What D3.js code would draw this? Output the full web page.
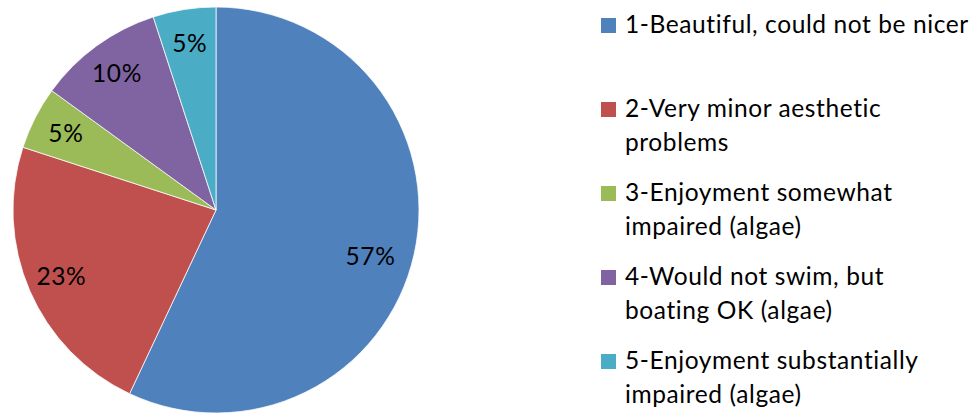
<!DOCTYPE html>
<html lang="en">
<head>
    <meta charset="UTF-8">
    <title>Pie chart</title>
    <script src="https://d3js.org/d3.v7.min.js"></script>
    <style>
        body {
            margin: 0;
            background: #fff;
            font-family: Lato, "Open Sans", sans-serif;
        }
        svg {
            display: block;
        }
        text {
            letter-spacing: 0.6px;
        }
    </style>
</head>
<body>
    <div id="container"></div>

    <script>
        // chart data
        const categories = [
            '1-Beautiful, could not be nicer',
            '2-Very minor aesthetic problems',
            '3-Enjoyment somewhat impaired (algae)',
            '4-Would not swim, but boating OK (algae)',
            '5-Enjoyment substantially impaired (algae)'
        ];
        // how each legend entry wraps
        const legendLines = [
            ['1-Beautiful, could not be nicer'],
            ['2-Very minor aesthetic', 'problems'],
            ['3-Enjoyment somewhat', 'impaired (algae)'],
            ['4-Would not swim, but', 'boating OK (algae)'],
            ['5-Enjoyment substantially', 'impaired (algae)']
        ];
        const percents = [57, 23, 5, 10, 5];
        const colors = ['#4F81BD', '#C0504D', '#9BBB59', '#8064A2', '#4BACC6'];

        const width = 975;
        const height = 416;
        const cx = 216;
        const cy = 210;
        const radius = 203;
        const fontSize = 24.5;

        const svg = d3.select('#container')
            .append('svg')
            .attr('width', width)
            .attr('height', height);

        const pie = d3.pie()
            .sort(null)
            .value(d => d);

        const arc = d3.arc()
            .innerRadius(0)
            .outerRadius(radius);

        // labels sit around 83% of the radius
        const labelArc = d3.arc()
            .innerRadius(radius * 0.83)
            .outerRadius(radius * 0.83);

        const color = d3.scaleOrdinal()
            .domain(categories)
            .range(colors);

        const arcs = pie(percents);

        const g = svg.append('g')
            .attr('transform', `translate(${cx},${cy})`);

        g.selectAll('path')
            .data(arcs)
            .enter()
            .append('path')
            .attr('d', arc)
            .attr('fill', (d, i) => color(categories[i]))
            .attr('stroke', '#fff')
            .attr('stroke-width', 0.75);

        g.selectAll('text.pct')
            .data(arcs)
            .enter()
            .append('text')
            .attr('class', 'pct')
            .attr('transform', d => {
                const c = labelArc.centroid(d);
                // the big slice's label sits a bit further round in the original
                if (d.index === 0) { c[0] -= 10; c[1] += 10; }
                return `translate(${c})`;
            })
            .attr('text-anchor', 'middle')
            .attr('dy', '0.35em')
            .attr('font-size', fontSize)
            .attr('fill', '#000')
            .text(d => d.value + '%');

        // legend
        const legendY = d3.scaleLinear()
            .domain([0, categories.length - 1])
            .range([33, 369]);

        const legend = svg.selectAll('g.legend')
            .data(categories)
            .enter()
            .append('g')
            .attr('class', 'legend')
            .attr('transform', (d, i) => `translate(601,${legendY(i)})`);

        legend.append('rect')
            .attr('x', 0)
            .attr('y', -15)
            .attr('width', 15)
            .attr('height', 15)
            .attr('fill', d => color(d));

        legend.append('text')
            .attr('font-size', fontSize)
            .attr('fill', '#000')
            .selectAll('tspan')
            .data((d, i) => legendLines[i])
            .enter()
            .append('tspan')
            .attr('x', 24)
            .attr('y', (d, j) => j * 34)
            .text(d => d);
    </script>
</body>
</html>
